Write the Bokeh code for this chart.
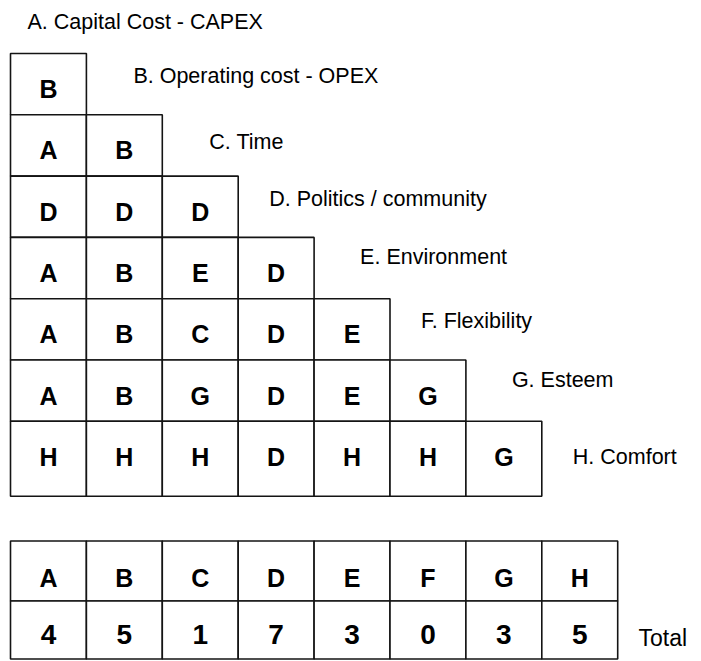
from bokeh.plotting import figure
from bokeh.models import Range1d
from bokeh.core.properties import value
from bokeh.embed import file_html
from bokeh.resources import INLINE

# ---------------- data ----------------
criteria_codes = ["A", "B", "C", "D", "E", "F", "G", "H"]
criteria_names = [
    "A. Capital Cost - CAPEX",
    "B. Operating cost - OPEX",
    "C. Time",
    "D. Politics / community",
    "E. Environment",
    "F. Flexibility",
    "G. Esteem",
    "H. Comfort",
]
# pairwise comparison winners (row = criterion B..H compared with A..previous)
row_B = ["B"]
row_C = ["A", "B"]
row_D = ["D", "D", "D"]
row_E = ["A", "B", "E", "D"]
row_F = ["A", "B", "C", "D", "E"]
row_G = ["A", "B", "G", "D", "E", "G"]
row_H = ["H", "H", "H", "D", "H", "H", "G"]
matrix_rows = [row_B, row_C, row_D, row_E, row_F, row_G, row_H]
totals = [4, 5, 1, 7, 3, 0, 3, 5]
total_label = "Total"

# ---------------- layout (style) ----------------
W, H = 701, 661
X0 = 10.0
COL_W = 75.9
ROW_TOP0 = 53.0
ROW_H = 61.3
LAST_ROW_H = 75.0
LETTER_DY = 35.5
LABEL_GAPS = [47, 47, 31, 46, 31, 46, 31]
LABEL_DY = [22, 27, 23, 20, 22, 20, 36]
TABLE_TOP = 540.5
TABLE_ROW_H = 60.0

FONT = value("Liberation Sans")
LINE = "#141414"

p = figure(width=W, height=H, output_backend="svg", toolbar_location=None,
           x_range=Range1d(0, W), y_range=Range1d(H, 0), min_border=0)
p.axis.visible = False
p.grid.visible = False
p.outline_line_color = None
p.background_fill_color = "white"
p.border_fill_color = "white"

# triangle cells
cl, cr, ct, cb, cx, cy, ctext = [], [], [], [], [], [], []
lab_x, lab_y, lab_t = [], [], []
for i, row in enumerate(matrix_rows):
    top = ROW_TOP0 + i * ROW_H
    h = LAST_ROW_H if i == len(matrix_rows) - 1 else ROW_H
    for j, w in enumerate(row):
        left = X0 + j * COL_W
        cl.append(left); cr.append(left + COL_W)
        ct.append(top); cb.append(top + h)
        cx.append(left + COL_W / 2); cy.append(top + LETTER_DY)
        ctext.append(w)
    lab_x.append(X0 + len(row) * COL_W + LABEL_GAPS[i])
    lab_y.append(top + LABEL_DY[i])
    lab_t.append(criteria_names[i + 1])

p.quad(left=cl, right=cr, top=ct, bottom=cb, fill_color="white",
       line_color=LINE, line_width=1.6)
p.text(x=cx, y=cy, text=ctext, text_align="center", text_baseline="middle",
       text_font=FONT, text_font_style="bold", text_font_size="25px", text_color="black")

# first label above
lab_x.insert(0, 27); lab_y.insert(0, 21); lab_t.insert(0, criteria_names[0])
p.text(x=lab_x, y=lab_y, text=lab_t, text_align="left", text_baseline="middle",
       text_font=FONT, text_font_size="21.5px", text_color="black")

# totals table
n = len(criteria_codes)
tl = [X0 + j * COL_W for j in range(n)]
tr = [X0 + (j + 1) * COL_W for j in range(n)]
p.quad(left=tl + tl, right=tr + tr,
       top=[TABLE_TOP] * n + [TABLE_TOP + TABLE_ROW_H] * n,
       bottom=[TABLE_TOP + TABLE_ROW_H] * n + [TABLE_TOP + 2 * TABLE_ROW_H - 2] * n,
       fill_color="white", line_color=LINE, line_width=1.6)
txc = [X0 + (j + 0.5) * COL_W for j in range(n)]
p.text(x=txc, y=[TABLE_TOP + 37] * n, text=criteria_codes, text_align="center",
       text_baseline="middle", text_font=FONT, text_font_style="bold",
       text_font_size="25px", text_color="black")
p.text(x=txc, y=[TABLE_TOP + TABLE_ROW_H + 33] * n, text=[str(t) for t in totals],
       text_align="center", text_baseline="middle", text_font=FONT,
       text_font_style="bold", text_font_size="28px", text_color="black")
p.text(x=[638], y=[637], text=[total_label], text_align="left", text_baseline="middle",
       text_font=FONT, text_font_size="23px", text_color="black")

open("out.html", "w").write(file_html(p, INLINE))
